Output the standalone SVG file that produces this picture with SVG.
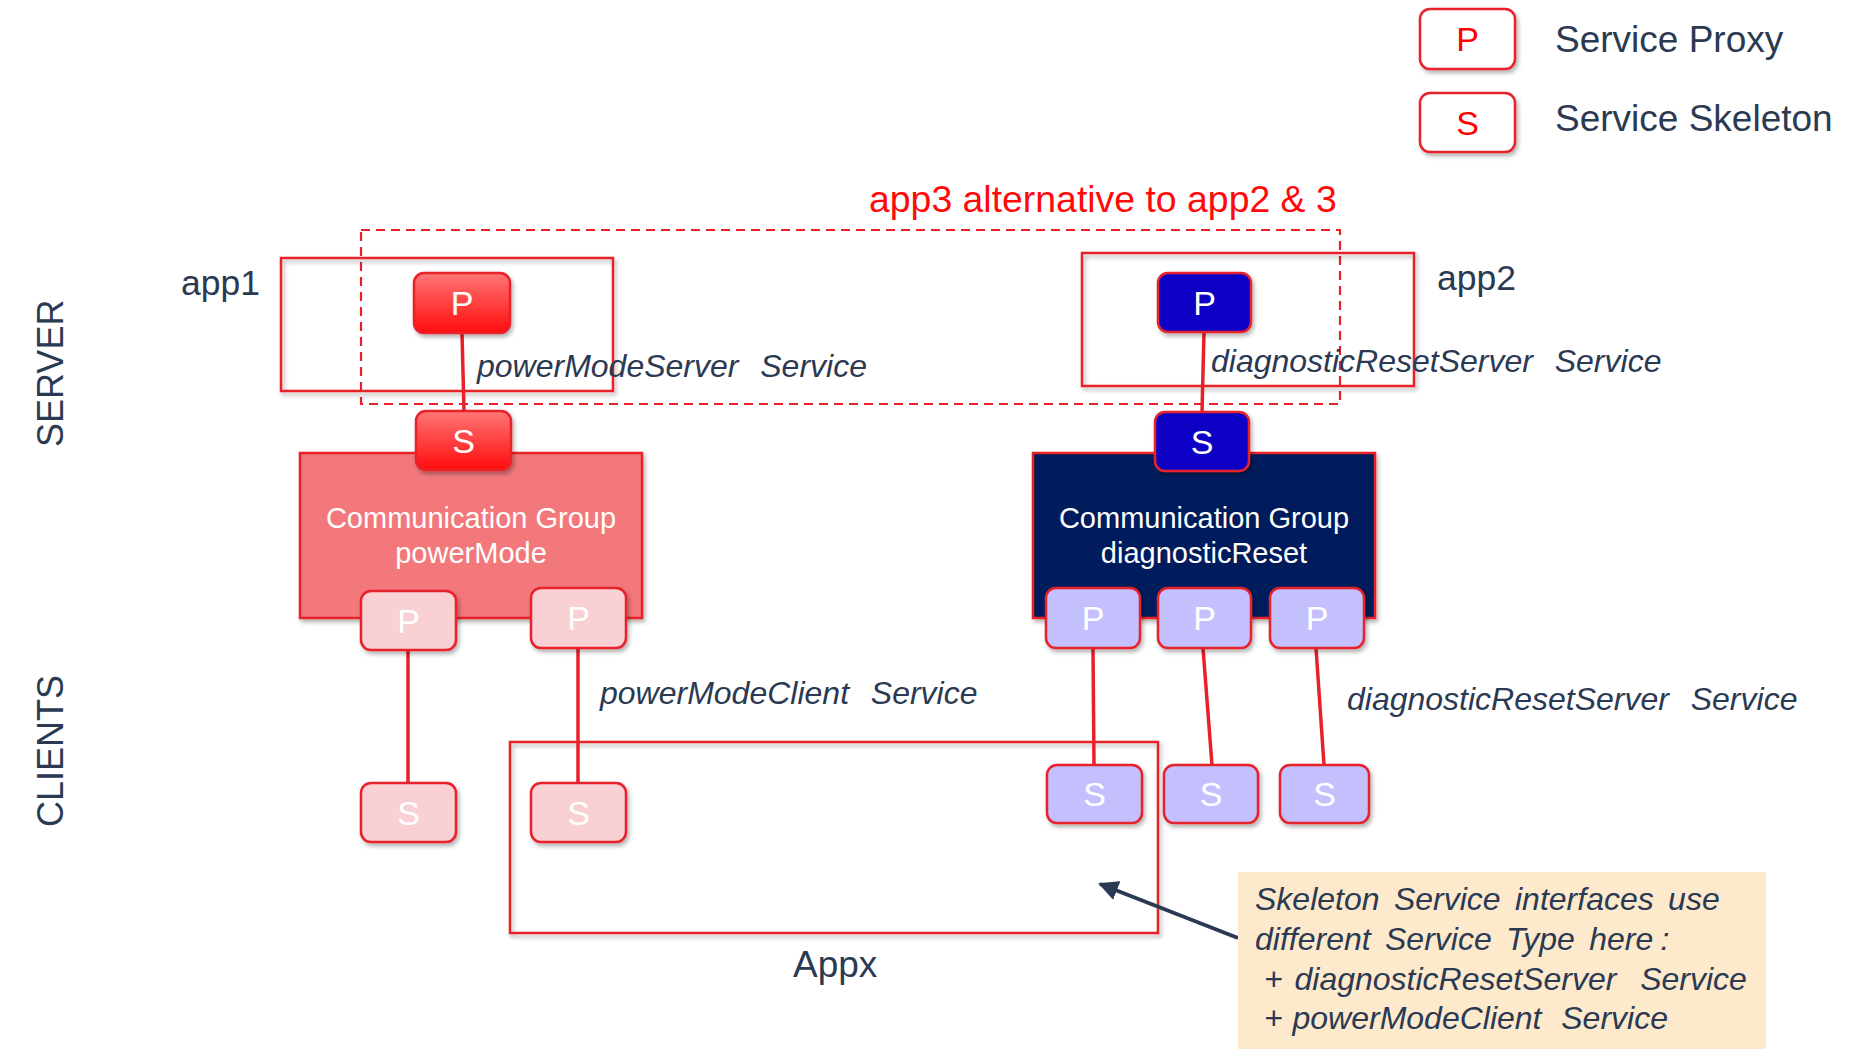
<svg xmlns="http://www.w3.org/2000/svg" width="1858" height="1060" viewBox="0 0 1858 1060">
<defs>
<filter id="sh" x="-10%" y="-10%" width="130%" height="140%">
<feDropShadow dx="2" dy="3" stdDeviation="2" flood-color="#000" flood-opacity="0.3"/>
</filter>
<linearGradient id="redg" x1="0" y1="0" x2="0" y2="1">
<stop offset="0" stop-color="#ff7676"/>
<stop offset="1" stop-color="#ff0c0c"/>
</linearGradient>
<marker id="arr" viewBox="0 0 10 10" refX="9" refY="5" markerWidth="5" markerHeight="5" orient="auto" markerUnits="strokeWidth">
<path d="M0,0 L10,5 L0,10 z" fill="#2b3a52"/>
</marker>
<style>
.lbl{font-family:"Liberation Sans",Arial,sans-serif;fill:#2b3a52}
.it{font-family:"Liberation Sans",Arial,sans-serif;font-style:italic;font-size:32px;fill:#2b3a52;white-space:pre}
.node{stroke:#e8202a;stroke-width:2.5;filter:url(#sh)}
.ltr{font-family:"Liberation Sans",Arial,sans-serif;font-size:34px;fill:#fff;text-anchor:middle}
.red{fill:url(#redg)}
.blue{fill:#0b00c4}
.pink{fill:#f9d0d3}
.lav{fill:#c3c0fd}
.leg{fill:#fff}
.cont{fill:none;stroke:#e8202a;stroke-width:2.5;filter:url(#sh)}
.div{stroke:#e8202a;stroke-width:5;filter:url(#sh)}
.con{stroke:#e8202a;stroke-width:3.5;fill:none}
.grp{font-family:"Liberation Sans",Arial,sans-serif;font-size:29px;fill:#fff;text-anchor:middle}
</style>
</defs>
<rect width="1858" height="1060" fill="#fff"/>

<g id="legend">
<g id="legend-proxy">
<rect class="node leg" x="1420" y="9" width="95" height="60" rx="10"/>
<text class="ltr" x="1467.5" y="51" style="fill:#ff0000">P</text>
<text class="lbl" x="1555" y="52" font-size="37">Service Proxy</text>
</g>
<g id="legend-skeleton">
<rect class="node leg" x="1420" y="93" width="95" height="59" rx="10"/>
<text class="ltr" x="1467.5" y="134.5" style="fill:#ff0000">S</text>
<text class="lbl" x="1555" y="131" font-size="37">Service Skeleton</text>
</g>
</g>

<g id="lanes">
<text class="lbl" font-size="36" transform="translate(63,447) rotate(-90)">SERVER</text>
<text class="lbl" font-size="36" transform="translate(63,827) rotate(-90)">CLIENTS</text>
<line class="div" x1="9" y1="556" x2="279" y2="556"/>
<line class="div" x1="699" y1="553" x2="968" y2="553"/>
<line class="div" x1="1416" y1="552" x2="1686" y2="552"/>
</g>

<g id="app3">
<rect x="361" y="230" width="979" height="174" fill="none" stroke="#e8202a" stroke-width="2.2" stroke-dasharray="9,6"/>
<text x="869" y="212" font-family="Liberation Sans, Arial, sans-serif" font-size="37.4" fill="#ff0a0a">app3 alternative to app2 &amp; 3</text>
</g>

<g id="app1">
<rect class="cont" x="281" y="258" width="332" height="133"/>
<text class="lbl" x="181" y="295" font-size="35.5">app1</text>
</g>

<g id="app2">
<rect class="cont" x="1082" y="253" width="332" height="133"/>
<text class="lbl" x="1437" y="290" font-size="35.5">app2</text>
</g>

<g id="appx">
<rect class="cont" x="510" y="742" width="648" height="191"/>
<text class="lbl" x="793" y="977" font-size="37">Appx</text>
</g>

<g id="cg-powerMode">
<rect x="300" y="453" width="342" height="165" fill="#f2787c" stroke="#e8202a" stroke-width="2.5" filter="url(#sh)"/>
<text class="grp" x="471" y="528">Communication Group</text>
<text class="grp" x="471" y="563">powerMode</text>
</g>

<g id="cg-diagnosticReset">
<rect x="1033" y="453" width="342" height="165" fill="#021e5c" stroke="#e8202a" stroke-width="2.5" filter="url(#sh)"/>
<text class="grp" x="1204" y="528">Communication Group</text>
<text class="grp" x="1204" y="563">diagnosticReset</text>
</g>

<g id="labels">
<text class="it" x="477" y="377" word-spacing="2">powerModeServer  Service</text>
<text class="it" x="1211" y="372" word-spacing="2">diagnosticResetServer  Service</text>
<text class="it" x="600" y="704" word-spacing="2">powerModeClient  Service</text>
<text class="it" x="1347" y="710" word-spacing="2">diagnosticResetServer  Service</text>
</g>

<g id="connectors">
<line class="con" x1="462" y1="333" x2="464" y2="411"/>
<line class="con" x1="1204" y1="332" x2="1202" y2="412"/>
<line class="con" x1="408" y1="650" x2="408" y2="783"/>
<line class="con" x1="578" y1="648" x2="578" y2="783"/>
<line class="con" x1="1093" y1="648" x2="1094" y2="765"/>
<line class="con" x1="1203" y1="648" x2="1212" y2="765"/>
<line class="con" x1="1316" y1="648" x2="1324" y2="765"/>
<line x1="1238" y1="938" x2="1100" y2="884" stroke="#2b3a52" stroke-width="4" marker-end="url(#arr)"/>
</g>

<g id="srv-pm-proxy"><rect class="node red" x="414" y="273" width="96" height="60" rx="10"/><text class="ltr" x="462" y="315">P</text></g>
<g id="srv-pm-skeleton"><rect class="node red" x="416" y="411" width="95" height="59" rx="10"/><text class="ltr" x="463.5" y="452.5">S</text></g>
<g id="srv-dr-proxy"><rect class="node blue" x="1158" y="273" width="93" height="59" rx="10"/><text class="ltr" x="1204.5" y="314.5">P</text></g>
<g id="srv-dr-skeleton"><rect class="node blue" x="1155" y="412" width="94" height="59" rx="10"/><text class="ltr" x="1202" y="453.5">S</text></g>

<g id="cl-pm-proxy1"><rect class="node pink" x="361" y="591" width="95" height="59" rx="10"/><text class="ltr" x="408.5" y="632.5">P</text></g>
<g id="cl-pm-proxy2"><rect class="node pink" x="531" y="588" width="95" height="60" rx="10"/><text class="ltr" x="578.5" y="630">P</text></g>
<g id="cl-pm-skel1"><rect class="node pink" x="361" y="783" width="95" height="59" rx="10"/><text class="ltr" x="408.5" y="824.5">S</text></g>
<g id="cl-pm-skel2"><rect class="node pink" x="531" y="783" width="95" height="59" rx="10"/><text class="ltr" x="578.5" y="824.5">S</text></g>

<g id="cl-dr-proxy1"><rect class="node lav" x="1046" y="588" width="94" height="60" rx="10"/><text class="ltr" x="1093" y="630">P</text></g>
<g id="cl-dr-proxy2"><rect class="node lav" x="1158" y="588" width="93" height="60" rx="10"/><text class="ltr" x="1204.5" y="630">P</text></g>
<g id="cl-dr-proxy3"><rect class="node lav" x="1270" y="588" width="94" height="60" rx="10"/><text class="ltr" x="1317" y="630">P</text></g>
<g id="cl-dr-skel1"><rect class="node lav" x="1047" y="765" width="95" height="58" rx="10"/><text class="ltr" x="1094.5" y="806">S</text></g>
<g id="cl-dr-skel2"><rect class="node lav" x="1164" y="765" width="94" height="58" rx="10"/><text class="ltr" x="1211" y="806">S</text></g>
<g id="cl-dr-skel3"><rect class="node lav" x="1280" y="765" width="89" height="58" rx="10"/><text class="ltr" x="1324.5" y="806">S</text></g>

<g id="note">
<rect x="1238" y="872" width="528" height="177" fill="#fde9cc"/>
<text class="it" x="1255" y="910" font-size="31" word-spacing="-1.7">Skeleton  Service  interfaces  use</text>
<text class="it" x="1255" y="950" font-size="31" word-spacing="-1.7">different  Service  Type  here :</text>
<text class="it" x="1252" y="990" font-size="31" word-spacing="3"> + diagnosticResetServer  Service</text>
<text class="it" x="1254" y="1029" font-size="31" word-spacing="1"> + powerModeClient  Service</text>
</g>
</svg>
